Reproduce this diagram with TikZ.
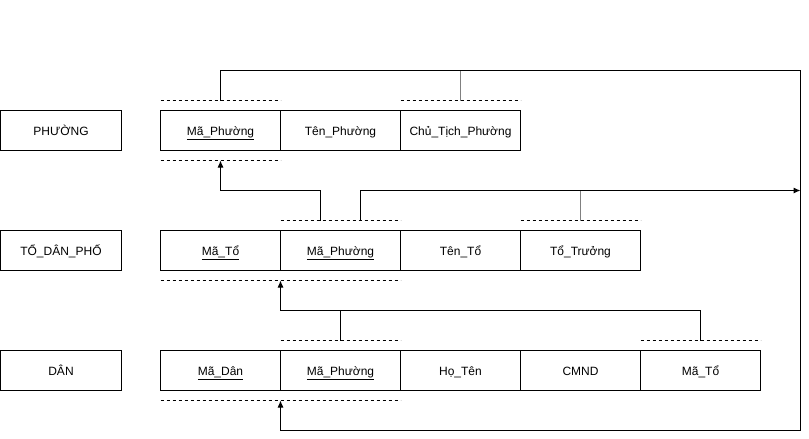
\documentclass[tikz,border=0pt]{standalone}
\usepackage{fontspec}
\setmainfont{Liberation Sans}
\usetikzlibrary{arrows.meta}
\tikzstyle{relation}=[draw, line width=1pt, minimum width=120pt, minimum height=40pt, outer sep=0pt, inner sep=0pt, text height=10.5pt, text depth=1.5pt, font=\fontsize{12}{14}\selectfont]
\tikzstyle{attribute}=[relation]
\tikzstyle{key mark}=[line width=1pt, dash pattern=on 3pt off 3pt]
\tikzstyle{link}=[line width=1pt]
\tikzstyle{reference}=[link, -{Latex[length=7pt,width=6pt]}]
\tikzstyle{side link}=[link, line width=1.5pt, draw=gray]

\begin{document}
\begin{tikzpicture}[x=1pt, y=1pt]
      \useasboundingbox (-0.5,0.5) rectangle (808.5,-438.5);
      % relation names
      \node[relation] (phuong) at (60.5,-130) {PHƯỜNG};
      \node[relation] (to) at (60.5,-250) {TỔ\_DÂN\_PHỐ};
      \node[relation] (dan) at (60.5,-370) {DÂN};
      % PHƯỜNG
      \node[attribute] (p1) at (220,-130) {\underline{Mã\_Phường}};
      \node[attribute] (p2) at (340,-130) {Tên\_Phường};
      \node[attribute] (p3) at (460,-130) {Chủ\_Tịch\_Phường};
      % TỔ_DÂN_PHỐ
      \node[attribute] (t1) at (220,-250) {\underline{Mã\_Tổ}};
      \node[attribute] (t2) at (340,-250) {\underline{Mã\_Phường}};
      \node[attribute] (t3) at (460,-250) {Tên\_Tổ};
      \node[attribute] (t4) at (580,-250) {Tổ\_Trưởng};
      % DÂN
      \node[attribute] (d1) at (220,-370) {\underline{Mã\_Dân}};
      \node[attribute] (d2) at (340,-370) {\underline{Mã\_Phường}};
      \node[attribute] (d3) at (460,-370) {Họ\_Tên};
      \node[attribute] (d4) at (580,-370) {CMND};
      \node[attribute] (d5) at (700,-370) {Mã\_Tổ};
      % key marks
      \draw[key mark] ([yshift=10pt]p1.north west) -- ([yshift=10pt]p1.north east);
      \draw[key mark] ([yshift=10pt]p3.north west) -- ([yshift=10pt]p3.north east);
      \draw[key mark] ([yshift=-10pt]p1.south west) -- ([yshift=-10pt]p1.south east);
      \draw[key mark] ([yshift=10pt]t2.north west) -- ([yshift=10pt]t2.north east);
      \draw[key mark] ([yshift=10pt]t4.north west) -- ([yshift=10pt]t4.north east);
      \draw[key mark] ([yshift=-10pt]t1.south west) -- ([yshift=-10pt]t2.south east);
      \draw[key mark] ([yshift=10pt]d2.north west) -- ([yshift=10pt]d2.north east);
      \draw[key mark] ([yshift=10pt]d5.north west) -- ([yshift=10pt]d5.north east);
      \draw[key mark] ([yshift=-10pt]d1.south west) -- ([yshift=-10pt]d2.south east);
      % references
      \coordinate (loop ne) at (800,-70);
      \coordinate (loop se) at (800,-430);
      \coordinate (bus t) at ([yshift=40pt]t4.north);
      \draw[reference] ([yshift=10pt]p1.north) |- (loop ne)
        -- (loop se)
        -| ([yshift=-10pt]d2.south west);
      \draw[side link] ([yshift=10pt]p3.north) -- (p3.north |- loop ne);
      \draw[reference] ([xshift=-20pt, yshift=10pt]t2.north)
        -- ++(0,30)
        -| ([yshift=-10pt]p1.south);
      \draw[reference] ([xshift=20pt, yshift=10pt]t2.north) |- (bus t -| loop ne);
      \draw[side link] ([yshift=10pt]t4.north) -- (bus t);
      \draw[reference] ([yshift=10pt]d5.north)
        -- ++(0,30)
        -| ([yshift=-10pt]t1.south east);
      \draw[link] ([yshift=10pt]d2.north) -- ++(0,30);
    \end{tikzpicture}
\end{document}
